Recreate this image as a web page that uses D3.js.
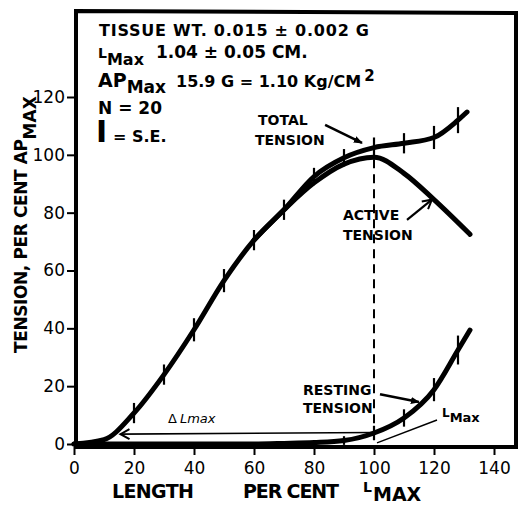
<!DOCTYPE html>
<html>
<head>
<meta charset="utf-8">
<script src="https://cdn.jsdelivr.net/npm/d3@7"></script>
<style>
  html, body { margin: 0; padding: 0; background: #fff; }
  svg { display: block; }
  text { font-family: "DejaVu Sans", sans-serif; fill: #000; }
</style>
</head>
<body>
<svg id="chart" width="518" height="505"></svg>
<script>
// ---------- data ----------
const xTicks = [0, 20, 40, 60, 80, 100, 120, 140];
const yTicks = [0, 20, 40, 60, 80, 100, 120];

const totalLength  = [0, 10, 20, 30, 40, 50, 60, 70, 80, 90, 100, 110, 120, 128, 131];
const totalTension = [0, 1.5, 10.7, 24, 39.5, 56.5, 70.5, 81, 92.5, 99, 102.5, 104, 106, 112, 114.8];
const totalSE      = [null, null, 3.5, 3.5, 4, 4, 3.5, 3.5, 3, 3, 3.5, 3.5, 4, 4.5, null];

const activeLength  = [60, 70, 80, 90, 100, 110, 120, 132];
const activeTension = [70.5, 81, 90.3, 96.8, 99.2, 93.6, 84.5, 72.5];

const restingLength  = [0, 60, 70, 80, 90, 100, 110, 120, 128, 132];
const restingTension = [0, 0, 0.2, 0.5, 1.2, 3.8, 9, 18.8, 32.5, 39.4];
const restingSE      = [null, null, null, null, 1.5, 2.5, 3, 4, 5, null];

const lMax = 100;

// ---------- scales ----------
const svg = d3.select("#chart");
const x = d3.scaleLinear().domain([0, 140]).range([74, 494]);
const y = d3.scaleLinear().domain([0, 120]).range([444, 97]);

svg.append("rect").attr("width", 518).attr("height", 505).attr("fill", "#fff");

// arrow markers
const defs = svg.append("defs");
defs.append("marker").attr("id", "filled").attr("viewBox", "0 0 10 10")
  .attr("refX", 9).attr("refY", 5).attr("markerWidth", 9).attr("markerHeight", 9)
  .attr("markerUnits", "userSpaceOnUse").attr("orient", "auto")
  .append("path").attr("d", "M0,1 L10,5 L0,9 Z").attr("fill", "#000");
defs.append("marker").attr("id", "open").attr("viewBox", "0 0 12 12")
  .attr("refX", 10).attr("refY", 6).attr("markerWidth", 12).attr("markerHeight", 12)
  .attr("markerUnits", "userSpaceOnUse").attr("orient", "auto")
  .append("path").attr("d", "M1,1 L10,6 L1,11").attr("fill", "none")
  .attr("stroke", "#000").attr("stroke-width", 2);

// ---------- axes ----------
const xAxis = svg.append("g").attr("transform", `translate(0,447)`)
  .call(d3.axisBottom(x).tickValues(xTicks).tickSize(8).tickPadding(7).tickFormat(d3.format("d")));
xAxis.select(".domain").remove();
xAxis.selectAll(".tick line").attr("stroke", "#000").attr("stroke-width", 2);
xAxis.selectAll(".tick text").attr("font-size", 17).attr("fill", "#000");

const yAxis = svg.append("g").attr("transform", `translate(76,0)`)
  .call(d3.axisLeft(y).tickValues(yTicks).tickSize(9).tickPadding(2).tickFormat(d3.format("d")));
yAxis.select(".domain").remove();
yAxis.selectAll(".tick line").attr("stroke", "#000").attr("stroke-width", 2);
yAxis.selectAll(".tick text").attr("font-size", 17).attr("fill", "#000");

// frame
svg.append("path")
  .attr("d", `M76,447 L76,11 L516,13 L516,447`)
  .attr("fill", "none").attr("stroke", "#000").attr("stroke-width", 4);
svg.append("line").attr("x1", 74).attr("x2", 518).attr("y1", 447).attr("y2", 447)
  .attr("stroke", "#000").attr("stroke-width", 4);

// ---------- curves ----------
const line = d3.line().curve(d3.curveMonotoneX);
function drawCurve(xs, ys) {
  svg.append("path")
    .attr("d", line(xs.map((d, i) => [x(d), y(ys[i])])))
    .attr("fill", "none").attr("stroke", "#000").attr("stroke-width", 5)
    .attr("stroke-linecap", "round").attr("stroke-linejoin", "round");
}
drawCurve(activeLength, activeTension);
drawCurve(totalLength, totalTension);
drawCurve(restingLength, restingTension);

// error bars
function drawSE(xs, ys, se) {
  xs.forEach((d, i) => {
    if (se[i] == null) return;
    svg.append("line")
      .attr("x1", x(d)).attr("x2", x(d))
      .attr("y1", y(ys[i] - se[i])).attr("y2", y(ys[i] + se[i]))
      .attr("stroke", "#000").attr("stroke-width", 2.2);
  });
}
drawSE(totalLength, totalTension, totalSE);
drawSE(restingLength, restingTension, restingSE);

// dashed L max line
const peak = d3.max(activeTension);
svg.append("line")
  .attr("x1", x(lMax)).attr("x2", x(lMax))
  .attr("y1", y(peak) + 2).attr("y2", y(0))
  .attr("stroke", "#000").attr("stroke-width", 2).attr("stroke-dasharray", "9,6");

// delta L max arrow
svg.append("line")
  .attr("x1", x(lMax)).attr("y1", y(4))
  .attr("x2", x(15.5)).attr("y2", y(3.4))
  .attr("stroke", "#000").attr("stroke-width", 1.6)
  .attr("marker-end", "url(#open)");

// L max tangent line
svg.append("line")
  .attr("x1", x(101)).attr("y1", y(0.4))
  .attr("x2", x(121)).attr("y2", y(8.3))
  .attr("stroke", "#000").attr("stroke-width", 1.5);

// annotation arrows
function arrow(x1, y1, x2, y2, m, w) {
  svg.append("line").attr("x1", x(x1)).attr("y1", y(y1)).attr("x2", x(x2)).attr("y2", y(y2))
    .attr("stroke", "#000").attr("stroke-width", w).attr("marker-end", `url(#${m})`);
}
arrow(83.7, 110.4, 96, 104.1, "filled", 2.5);
arrow(111, 77.5, 119.3, 84.5, "open", 2.2);
arrow(102, 17.2, 115, 14.5, "filled", 2.5);

// ---------- texts ----------
function txt(px, py, s, size, weight, anchor) {
  return svg.append("text").attr("x", px).attr("y", py).attr("font-size", size)
    .attr("font-weight", weight || "bold").attr("text-anchor", anchor || "start").text(s);
}
// info block
txt(99, 36, "TISSUE WT. 0.015 \u00B1 0.002 G", 16, "bold").attr("textLength", 270);
const l2 = svg.append("text").attr("x", 98).attr("y", 58).attr("font-weight", "bold");
l2.append("tspan").attr("font-size", 14).text("L");
l2.append("tspan").attr("font-size", 16).attr("dy", 7).text("Max");
l2.append("tspan").attr("font-size", 17).attr("x", 156).attr("dy", -7)
  .text("1.04 \u00B1 0.05 CM.");
const l3 = svg.append("text").attr("x", 98).attr("y", 87).attr("font-weight", "bold");
l3.append("tspan").attr("font-size", 19).text("AP");
l3.append("tspan").attr("font-size", 17).attr("dy", 6).text("Max");
l3.append("tspan").attr("font-size", 16).attr("x", 176).attr("dy", -6)
  .text("15.9 G = 1.10 Kg/CM");
l3.append("tspan").attr("font-size", 15).attr("dy", -6).attr("dx", 3).text("2");
txt(98, 114, "N = 20", 17, "bold");
txt(96, 142, "I", 30, "bold");
txt(113, 142, "= S.E.", 16, "bold");

// y axis label
const yl = svg.append("text").attr("transform", "translate(27,353) rotate(-90)")
  .attr("font-weight", "bold");
yl.append("tspan").attr("font-size", 17).attr("textLength", 214).text("TENSION, PER CENT AP");
yl.append("tspan").attr("font-size", 17).attr("dy", 9).text("MAX");

// x axis labels
txt(112, 498, "LENGTH", 19, "bold").attr("textLength", 82);
txt(243, 498, "PER CENT", 19, "bold").attr("textLength", 96);
txt(363, 492, "L", 14, "bold");
txt(373, 501, "MAX", 19, "bold");

// curve annotations
txt(258, 125, "TOTAL", 14, "bold");
txt(255, 145, "TENSION", 14, "bold");
txt(343, 220, "ACTIVE", 14, "bold");
txt(343, 240, "TENSION", 14, "bold");
txt(303, 395, "RESTING", 14, "bold");
txt(303, 413, "TENSION", 14, "bold");
const dl = svg.append("text").attr("x", 168).attr("y", 423).attr("font-size", 13);
dl.append("tspan").text("\u0394");
dl.append("tspan").attr("dx", 3).attr("font-style", "italic").text("Lmax");
const lm = svg.append("text").attr("x", 442).attr("y", 417).attr("font-weight", "bold");
lm.append("tspan").attr("font-size", 12).text("L");
lm.append("tspan").attr("font-size", 13).attr("dy", 5).text("Max");
</script>
</body>
</html>
